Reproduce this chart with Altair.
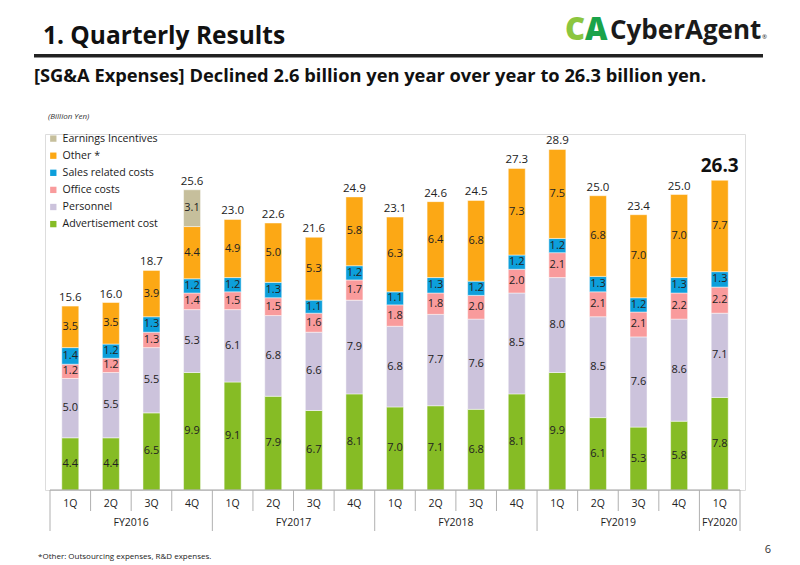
import altair as alt
import pandas as pd

quarters = ["1Q", "2Q", "3Q", "4Q", "1Q", "2Q", "3Q", "4Q", "1Q", "2Q", "3Q", "4Q",
            "1Q", "2Q", "3Q", "4Q", "1Q"]
fiscal_years = ["FY2016", "FY2017", "FY2018", "FY2019", "FY2020"]
fy_center = [1.5, 5.5, 9.5, 13.5, 16]

series = ["Advertisement cost", "Personnel", "Office costs", "Sales related costs",
          "Other *", "Earnings Incentives"]
colors = ["#86bc25", "#ccc3dc", "#f99b9c", "#0d9fdb", "#fca815", "#c6bf9c"]

advertisement = [4.4, 4.4, 6.5, 9.9, 9.1, 7.9, 6.7, 8.1, 7.0, 7.1, 6.8, 8.1, 9.9, 6.1, 5.3, 5.8, 7.8]
personnel = [5.0, 5.5, 5.5, 5.3, 6.1, 6.8, 6.6, 7.9, 6.8, 7.7, 7.6, 8.5, 8.0, 8.5, 7.6, 8.6, 7.1]
office = [1.2, 1.2, 1.3, 1.4, 1.5, 1.5, 1.6, 1.7, 1.8, 1.8, 2.0, 2.0, 2.1, 2.1, 2.1, 2.2, 2.2]
sales = [1.4, 1.2, 1.3, 1.2, 1.2, 1.3, 1.1, 1.2, 1.1, 1.3, 1.2, 1.2, 1.2, 1.3, 1.2, 1.3, 1.3]
other = [3.5, 3.5, 3.9, 4.4, 4.9, 5.0, 5.3, 5.8, 6.3, 6.4, 6.8, 7.3, 7.5, 6.8, 7.0, 7.0, 7.7]
earnings = [None, None, None, 3.1, None, None, None, None, None, None, None, None,
            None, None, None, None, None]
totals = [15.6, 16.0, 18.7, 25.6, 23.0, 22.6, 21.6, 24.9, 23.1, 24.6, 24.5, 27.3,
          28.9, 25.0, 23.4, 25.0, 26.3]

all_series = [advertisement, personnel, office, sales, other, earnings]

rows = []
tops = []
for i in range(len(quarters)):
    cum = 0.0
    for s, (name, vals) in enumerate(zip(series, all_series)):
        v = vals[i]
        if v is None:
            continue
        rows.append({"i": i, "series": name, "ord": s, "value": v,
                     "mid": cum + v / 2, "label": f"{v:.1f}"})
        cum += v
    tops.append(cum)

df = pd.DataFrame(rows)
tot_df = pd.DataFrame({"i": list(range(len(quarters))), "top": tops,
                       "label": [f"{t:.1f}" for t in totals]})
last_df = tot_df.iloc[-1:]
rest_df = tot_df.iloc[:-1]

W, H = 700, 356
FONT = "Open Sans"

xscale = alt.Scale(domain=[-0.5, 16.5], nice=False, zero=False)
yscale = alt.Scale(domain=[0, 30], nice=False)
legend_order = ["Earnings Incentives", "Other *", "Sales related costs",
                "Office costs", "Personnel", "Advertisement cost"]
color_scale = alt.Scale(domain=legend_order,
                        range=[colors[series.index(n)] for n in legend_order])

bars = alt.Chart(df).mark_bar(size=17, stroke="#ffffff", strokeWidth=0.6,
                              strokeOpacity=0.8).encode(
    x=alt.X("i:Q", scale=xscale, axis=None),
    y=alt.Y("value:Q", stack="zero", scale=yscale, axis=None),
    color=alt.Color("series:N", scale=color_scale, legend=alt.Legend(
        title="(Billion Yen)", orient="none", legendX=3, legendY=-21,
        titleFont=FONT, titleFontSize=8, titleFontStyle="italic", titleFontWeight="normal",
        titleColor="#333", titlePadding=12.3,
        labelFont=FONT, labelFontSize=10.6, labelColor="#1a1a1a",
        symbolType="square", symbolSize=40, symbolStrokeWidth=0, rowPadding=6.1,
        labelOffset=4)),
    order=alt.Order("ord:Q", sort="ascending"),
)

seg_labels = alt.Chart(df).mark_text(font=FONT, fontSize=11, color="#222",
                                     baseline="middle").encode(
    x=alt.X("i:Q", scale=xscale), y=alt.Y("mid:Q", scale=yscale), text="label:N")

tot_labels = alt.Chart(rest_df).mark_text(font=FONT, fontSize=11.5, color="#222",
                                          baseline="alphabetic", dy=-5).encode(
    x=alt.X("i:Q", scale=xscale), y=alt.Y("top:Q", scale=yscale), text="label:N")

last_label = alt.Chart(last_df).mark_text(font=FONT, fontSize=19, fontWeight="bold",
                                          color="#111", baseline="alphabetic", dy=-8).encode(
    x=alt.X("i:Q", scale=xscale), y=alt.Y("top:Q", scale=yscale), text="label:N")

q_df = pd.DataFrame({"i": list(range(len(quarters))), "q": quarters})
q_labels = alt.Chart(q_df).mark_text(font=FONT, fontSize=10.5, color="#222",
                                     baseline="middle").encode(
    x=alt.X("i:Q", scale=xscale), y=alt.value(370), text="q:N")

fy_df = pd.DataFrame({"x": fy_center, "fy": fiscal_years})
fy_labels = alt.Chart(fy_df).mark_text(font=FONT, fontSize=10.5, color="#222",
                                       baseline="middle").encode(
    x=alt.X("x:Q", scale=xscale), y=alt.value(389), text="fy:N")

year_bounds = [0, 4, 8, 12, 16, 17]
sep_df = pd.DataFrame({"x": [k - 0.5 for k in range(18)],
                       "long": [k in year_bounds for k in range(18)]})
short_sep = alt.Chart(sep_df[~sep_df["long"]]).mark_rule(color="#b0b0b0", strokeWidth=1).encode(
    x=alt.X("x:Q", scale=xscale), y=alt.value(H), y2=alt.value(377))
long_sep = alt.Chart(sep_df[sep_df["long"]]).mark_rule(color="#b0b0b0", strokeWidth=1).encode(
    x=alt.X("x:Q", scale=xscale), y=alt.value(H), y2=alt.value(397))
axis_line = alt.Chart(pd.DataFrame({"a": [-0.5], "b": [16.5]})).mark_rule(
    color="#a0a0a0", strokeWidth=1).encode(
    x=alt.X("a:Q", scale=xscale), x2="b:Q", y=alt.value(H))

title = alt.Chart(pd.DataFrame({"t": ["1.  Quarterly Results"]})).mark_text(
    font=FONT, fontSize=24.5, fontWeight="bold", color="#111", align="left",
    baseline="alphabetic").encode(x=alt.value(-2), y=alt.value(-90.5), text="t:N")
rule_top = alt.Chart(pd.DataFrame({"a": [0]})).mark_rule(color="#222", strokeWidth=3.5).encode(
    x=alt.value(-11), x2=alt.value(718), y=alt.value(-78.3))
subtitle = alt.Chart(pd.DataFrame({"t": [
    "[SG&A Expenses] Declined 2.6 billion yen year over year to 26.3 billion yen."]})).mark_text(
    font=FONT, fontSize=18.3, fontWeight="bold", color="#111", align="left",
    baseline="alphabetic").encode(x=alt.value(-11), y=alt.value(-52.3), text="t:N")

logo_c = alt.Chart(pd.DataFrame({"t": ["C"]})).mark_text(
    font=FONT, fontSize=31, fontWeight=800, color="#8cc63f", align="left",
    baseline="alphabetic").encode(x=alt.value(520), y=alt.value(-94), text="t:N")
logo_a = alt.Chart(pd.DataFrame({"t": ["A"]})).mark_text(
    font=FONT, fontSize=31, fontWeight=800, color="#1aa34a", align="left",
    baseline="alphabetic").encode(x=alt.value(540), y=alt.value(-94), text="t:N")
logo_t = alt.Chart(pd.DataFrame({"t": ["CyberAgent"]})).mark_text(
    font=FONT, fontSize=26, fontWeight="bold", color="#1a1a1a", align="left",
    baseline="alphabetic").encode(x=alt.value(565), y=alt.value(-95.5), text="t:N")
logo_r = alt.Chart(pd.DataFrame({"t": ["®"]})).mark_text(
    font=FONT, fontSize=6, color="#1a1a1a", align="left",
    baseline="alphabetic").encode(x=alt.value(717), y=alt.value(-95.5), text="t:N")

footnote = alt.Chart(pd.DataFrame({"t": ["*Other: Outsourcing expenses, R&D expenses."]})).mark_text(
    font=FONT, fontSize=8, color="#222", align="left", baseline="middle").encode(
    x=alt.value(-7), y=alt.value(423), text="t:N")
page = alt.Chart(pd.DataFrame({"t": ["6"]})).mark_text(
    font=FONT, fontSize=11, color="#333", align="center", baseline="middle").encode(
    x=alt.value(723), y=alt.value(416), text="t:N")

chart = alt.layer(
    bars, seg_labels, tot_labels, last_label, axis_line, short_sep, long_sep,
    q_labels, fy_labels, title, rule_top, subtitle, logo_c, logo_a, logo_t, logo_r,
    footnote, page
).properties(
    width=W, height=H,
    autosize=alt.AutoSizeParams(type="none"),
    padding={"left": 45, "top": 134, "right": 55, "bottom": 75},
).configure_view(stroke=None).configure(background="white")

chart.save("out.html", embed_options={"renderer": "svg", "actions": False})
